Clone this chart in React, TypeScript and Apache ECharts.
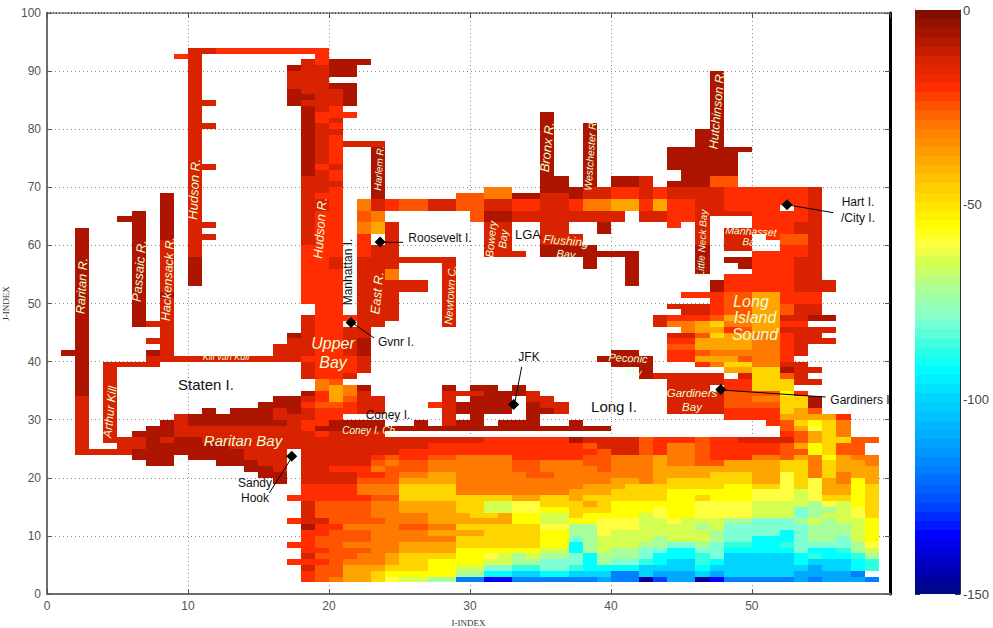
import React, { useEffect, useRef } from "react";
import * as echarts from "echarts";

// ---- colour levels (letter -> depth value) ----
const levelLetters = "abcdefghijklmnopqrst".split("");
const levelNumbers = [-7, -13, -20, -25, -30, -38, -47, -56, -60, -65, -72, -80, -87, -92, -100, -110, -118, -128, -135, -146];

const rampValues = [0, -7, -13, -20, -25, -30, -38, -47, -56, -60, -65, -72, -80, -87, -92, -100, -110, -118, -128, -135, -146, -150];
const rampColors = ["#7a0e00", "#ad1500", "#d92200", "#ff2d00", "#ff5500", "#ff7a00", "#ffa500", "#ffd500", "#ffff00", "#ffff40", "#d4ff50", "#a8ff9a", "#7fffd4", "#30ffe0", "#00ffff", "#00d5ff", "#00a8ff", "#0080ff", "#0040ff", "#0000ff", "#0000a0", "#000a80"];

const xTicksMax = 59.8;
const colorbarTicks = [0, -50, -100, -150];

// [x0, x1, y0, y1, level]
type P = [number, number, number, number, string];

const westRivers: P[] = [
  [10, 12, 93, 94, "b"], [12, 20, 93, 94, "c"], [9, 10, 92, 93, "c"], [10, 11, 58, 93, "b"], [10, 11, 53, 58, "a"],
  [11, 12, 84, 85, "b"], [11, 12, 80, 81, "b"], [11, 12, 73, 74, "b"], [11, 12, 63, 64, "b"], [11, 12, 61, 62, "b"],
  [2, 3, 34, 63, "a"], [2, 3, 24, 34, "b"], [1, 2, 41, 42, "a"],
  [4, 5, 26, 40, "b"], [4, 8, 39, 40, "b"], [7, 18, 40, 41, "b"], [7, 8, 41, 42, "a"], [7, 8, 43, 44, "b"],
  [6, 7, 46, 66, "a"], [5, 6, 64, 65, "a"], [7, 8, 46, 47, "b"],
  [8, 9, 61, 69, "a"], [8, 9, 41, 61, "b"], [8, 9, 51, 52, "a"],
  [16, 18, 41, 43, "b"], [17, 18, 43, 44, "b"], [17, 18, 44, 45, "a"],
];

const upperHudson: P[] = [
  [17, 18, 84, 91, "b"], [17, 18, 90, 91, "a"], [17, 18, 84, 87, "a"],
  [18, 19, 60, 92, "b"], [18, 19, 85, 86, "a"], [18, 19, 72, 84, "a"], [18, 19, 50, 60, "c"],
  [18, 19, 41, 48, "b"], [18, 19, 40, 41, "c"], [18, 19, 37, 40, "b"], [18, 19, 34, 35, "a"],
  [19, 20, 37, 93, "c"], [19, 20, 83, 91, "b"], [19, 20, 74, 81, "b"], [19, 20, 69, 73, "b"], [19, 20, 66, 68, "b"],
  [20, 21, 37, 88, "c"], [20, 21, 84, 87, "b"], [20, 21, 81, 82, "b"], [20, 21, 79, 80, "b"], [20, 21, 73, 74, "b"], [20, 21, 70, 71, "b"], [20, 21, 56, 58, "b"],
  [20, 23, 91, 92, "a"], [20, 22, 89, 91, "a"], [21, 22, 84, 88, "a"], [20, 21, 87, 88, "a"], [21, 22, 82, 83, "c"],
];

const eastRiver: P[] = [
  [21, 24, 77, 78, "b"], [23, 24, 68, 77, "a"],
  [22, 23, 66, 68, "e"], [23, 24, 66, 68, "b"], [24, 25, 66, 68, "c"], [25, 27, 66, 68, "d"], [27, 29, 66, 68, "b"],
  [29, 31, 66, 69, "d"], [30, 31, 64, 66, "d"], [31, 33, 68, 70, "e"], [31, 33, 66, 68, "b"], [31, 33, 64, 66, "a"],
  [33, 35, 68, 69, "a"], [33, 35, 66, 68, "c"], [33, 41, 64, 66, "b"], [42, 44, 64, 66, "b"],
  [35, 36, 69, 83, "a"], [36, 37, 69, 72, "a"], [37, 38, 68, 70, "a"], [38, 39, 70, 81, "a"], [38, 40, 68, 70, "b"],
  [35, 37, 66, 69, "b"], [37, 38, 66, 68, "c"], [38, 40, 66, 68, "e"],
  [40, 42, 70, 72, "a"], [40, 42, 68, 70, "c"], [40, 42, 66, 68, "f"], [42, 43, 68, 72, "b"], [42, 43, 66, 68, "c"],
  [35, 37, 62, 64, "b"], [35, 38, 60, 62, "b"], [35, 39, 58, 60, "a"], [38, 39, 56, 58, "a"], [39, 41, 58, 59, "a"], [41, 42, 53, 59, "a"], [39, 40, 62, 64, "a"],
  [31, 32, 58, 64, "b"], [32, 33, 59, 64, "b"], [31, 34, 58, 59, "b"],
  [22, 23, 64, 66, "d"], [23, 24, 64, 66, "e"], [22, 23, 62, 64, "e"], [23, 24, 62, 64, "f"], [22, 23, 58, 62, "c"], [23, 24, 58, 60, "b"], [24, 25, 58, 64, "b"],
  [22, 24, 46, 58, "b"], [24, 25, 47, 58, "b"], [24, 25, 54, 56, "e"], [25, 29, 57, 58, "b"], [28, 29, 46, 58, "b"], [25, 27, 52, 54, "b"],
  [21, 23, 38, 46, "b"], [22, 23, 41, 44, "a"], [21, 22, 38, 41, "c"], [21, 22, 37, 38, "b"], [21, 22, 47, 48, "c"],
];

const raritanBay: P[] = [
  [19, 20, 35, 37, "e"], [20, 21, 36, 37, "d"], [20, 21, 35, 36, "f"], [21, 22, 35, 36, "e"], [22, 23, 35, 36, "a"],
  [19, 20, 34, 35, "c"], [20, 21, 34, 35, "f"], [21, 22, 34, 35, "e"], [22, 23, 34, 35, "b"],
  [16, 18, 33, 34, "a"], [18, 19, 33, 34, "b"], [19, 20, 33, 34, "c"], [20, 21, 33, 34, "f"], [21, 22, 33, 34, "d"], [22, 24, 33, 34, "b"],
  [15, 18, 32, 33, "a"], [18, 19, 32, 33, "c"], [19, 21, 32, 33, "d"], [21, 22, 32, 33, "c"], [22, 24, 32, 33, "b"],
  [11, 12, 31, 32, "a"], [13, 16, 31, 32, "a"], [16, 17, 31, 32, "b"], [17, 18, 31, 32, "a"], [18, 19, 31, 32, "b"], [19, 22, 31, 32, "c"], [22, 24, 31, 32, "b"],
  [9, 10, 30, 31, "b"], [10, 16, 30, 31, "a"], [16, 19, 30, 31, "b"], [19, 21, 30, 31, "c"],
  [8, 9, 29, 30, "a"], [9, 10, 29, 30, "b"], [10, 17, 29, 30, "a"], [17, 18, 29, 30, "b"], [18, 20, 29, 30, "c"], [20, 24, 29, 30, "a"],
  [7, 9, 28, 29, "a"], [9, 18, 28, 29, "b"], [18, 19, 28, 29, "c"], [19, 40, 28, 29, "a"],
  [6, 9, 27, 28, "a"], [9, 19, 27, 28, "b"], [19, 20, 27, 28, "c"], [20, 24, 27, 28, "b"],
  [5, 7, 26, 27, "b"], [7, 8, 26, 27, "a"], [8, 9, 26, 27, "b"], [9, 11, 26, 27, "a"], [11, 18, 26, 27, "b"],
  [5, 7, 25, 26, "b"], [7, 13, 25, 26, "a"], [13, 18, 25, 26, "b"],
  [2, 6, 24, 25, "b"], [6, 14, 24, 25, "a"], [14, 17, 24, 25, "b"],
  [6, 9, 23, 24, "a"], [10, 14, 23, 24, "a"], [14, 17, 23, 24, "b"],
  [7, 9, 22, 23, "a"], [12, 15, 22, 23, "a"], [15, 17, 22, 23, "b"],
  [14, 16, 21, 22, "a"], [16, 17, 21, 22, "b"], [15, 17, 20, 21, "a"], [16, 17, 19, 20, "a"],
  [17, 18, 16, 17, "c"], [17, 18, 12, 13, "c"], [17, 18, 8, 9, "c"], [17, 18, 5, 6, "c"],
];

const jamaicaBay: P[] = [
  [28, 29, 35, 36, "a"], [30, 32, 35, 36, "a"], [33, 34, 35, 36, "a"],
  [28, 31, 34, 35, "b"], [31, 34, 34, 35, "a"], [34, 35, 34, 35, "b"],
  [28, 29, 33, 34, "b"], [30, 33, 33, 34, "a"], [34, 36, 33, 34, "b"],
  [27, 28, 32, 33, "c"], [28, 29, 32, 33, "b"], [29, 33, 32, 33, "a"], [34, 35, 32, 33, "a"], [35, 37, 32, 33, "b"],
  [28, 29, 31, 32, "b"], [29, 33, 31, 32, "a"], [34, 36, 31, 32, "a"], [36, 37, 31, 32, "b"],
  [28, 29, 30, 31, "b"], [30, 31, 30, 31, "a"], [34, 35, 30, 31, "a"],
  [26, 27, 29, 30, "a"], [28, 29, 29, 30, "b"], [29, 31, 29, 30, "a"], [32, 35, 29, 30, "a"], [37, 38, 29, 30, "a"],
  [39, 40, 40, 41, "a"], [40, 42, 39, 42, "a"], [42, 43, 37, 41, "a"], [43, 44, 37, 38, "b"],
];

const northShore: P[] = [
  [47, 48, 77, 90, "a"], [46, 47, 77, 80, "a"], [44, 50, 76, 77, "a"], [44, 49, 73, 76, "a"], [45, 49, 72, 73, "a"],
  [45, 47, 70, 72, "a"], [47, 49, 70, 72, "d"], [44, 45, 70, 71, "a"],
  [43, 44, 68, 70, "c"], [44, 48, 68, 70, "b"], [48, 54, 68, 70, "c"], [54, 55, 68, 70, "b"],
  [43, 44, 66, 68, "f"], [44, 46, 66, 68, "c"], [46, 48, 66, 68, "b"], [48, 54, 66, 68, "c"], [54, 55, 55, 68, "b"],
  [44, 46, 64, 66, "c"], [46, 48, 65, 66, "b"], [46, 47, 60, 65, "b"], [46, 47, 55, 60, "a"], [48, 50, 65, 66, "b"], [50, 54, 64, 66, "c"], [44, 45, 63, 64, "c"],
  [50, 53, 62, 64, "c"], [53, 54, 62, 64, "b"], [51, 52, 61, 62, "c"], [52, 54, 60, 62, "d"], [52, 54, 58, 60, "c"],
  [48, 50, 59, 63, "b"], [50, 52, 58, 59, "c"], [48, 50, 57, 58, "a"], [49, 50, 56, 57, "a"], [50, 53, 55, 58, "c"], [53, 55, 55, 58, "b"],
  [52, 53, 66, 67, "."],
];

// rows of Long Island Sound, one letter per column from I = 43 to 56, J = 54 down to 27
const soundFirstColumn = 43;
const soundRows = [
  ".....cccccbb..", "....acccccbbb.", "....acccccbbb.", "..cccddffccc..", "....cddffccc..",
  ".bbbcddffdbb..", "..bbcddffdbb..", "bcccdfeffbbaa.", "beefgeeffcc...", "..effcdffbbbb.",
  ".bbdgffeecbb..", ".ccffffeecbbb.", ".ddffffeecb...", ".ccdeeeeecb...", ".ccfffdeec....",
  "...ceggeebb...", ".....ffggabb..", ".bbbb.bggdb...", ".bbbbccgggbb..", ".bbb.ccggg....",
  ".bbbbddddhc...", ".bbbbddeegga..", ".bbbbddddgga..", ".bbbbccccgfd..", ".....ccccffffc",
  "........cdghge", ".........dfige", ".........cdfge",
];

// rows of the open ocean, one letter per column from I = 18 to 58, J = 26 down to 2
const oceanFirstColumn = 18;
const oceanRows = [
  "bbbbbbbbbbbbbccccccabb bbdcccdccbbbbdfggdd",
  "bbbbbbbbbcccccccccccdb bbdceedcccccdfhgdd",
  "bbbbbbbccccccccccccccd bbdceedcccccddhgdd",
  "bbbbbcdccddeeeecccccdd eeefeedccceedfehfee",
  "bbbbbdeddeeeeeeddeeedd eeefeeddffffggegffe",
  "bbcccedddeeeeeeddeeeed eeefffffffffggegfff",
  "bbbbccdeeffeeeeeddeeee eeeffffgggffigegeff",
  "bbbbdddffffeeeeeeeeeee ffefggggggffigifehf",
  "cccceeeggggeeeeeeeeeff fggggggghhggigiffhg",
  "cccceeeggggeeeeeeeefff gggghhhhhhiiijiffhg",
  "cccccddggggggggffggfgg gggghhghhhiiijigghg",
  "bddddeeffffggjjiigggfg hhhhhhiiiijjjjkijhg",
  "bddddeeffffggjjiihhggg hhhihhiiiijjjlkkjig",
  "bddddeeeefffggfhhjjghh hhjihhiiiijjjlkjjig",
  "bbddddeeeffffffhhjjhhi iijjijjjkklllkjkjjh",
  "acceeeeddeeggggggiikki iijjjjkjllllllkkkjh",
  "ccdddeeeeffffgggghhkki jjjjjjjkllllnlkkkjh",
  "cddddeeeeeegggggghhlkj jjjkjjjkllnnnlkkljh",
  "cddeeeeffffgggggghhnkj jjkkllklmmnnmllllki",
  "ccdddeeffffhhhhhhjjnkj kkllnnllnnnnnlnnmkj",
  "bdddeefgggghhijkjkklnk kklnnnmlooooonmnnmk",
  "ccdeeefgghhhhjjkklllnk llmnoomnooooonooonm",
  "bddfffggghhjjllmmllmnn nnoooonooooooopoonm",
  "cddffghhhhhkknnoonnooo qqopppopoooooppppq",
  "cdeffgijjkkqqssqqqqqqp qqtrpptsqqqqqpqpppq",
];

const upperRow27: P[] = [[18, 24, 27, 28, "b"]];

// stations: diamonds in index coordinates
const stationI = [23.63, 21.57, 33.1, 17.36, 52.5, 47.8];
const stationJ = [60.6, 46.75, 32.6, 23.7, 67, 35.2];

// ---- build the cell list ----
const levelValue = new Map(levelLetters.map((l, i) => [l, levelNumbers[i]] as [string, number]));
const cellMap = new Map<string, string>();
const put = (x: number, y: number, l: string) => {
  if (l === ".") cellMap.delete(x + "," + y);
  else cellMap.set(x + "," + y, l);
};
[westRivers, upperHudson, eastRiver, upperRow27, raritanBay, jamaicaBay, northShore].forEach((group) =>
  group.forEach(([x0, x1, y0, y1, l]) => {
    for (let x = x0; x < x1; x++) for (let y = y0; y < y1; y++) put(x, y, l);
  })
);
soundRows.forEach((row, k) => {
  row.split("").forEach((l, i) => {
    if (l !== ".") put(soundFirstColumn + i, 54 - k, l);
  });
});
oceanRows.forEach((row, k) => {
  row.replace(/ /g, "").split("").forEach((l, i) => {
    if (i < 41) put(oceanFirstColumn + i, 26 - k, l);
  });
});
const cells: [number, number, number][] = [];
cellMap.forEach((l, key) => {
  const [x, y] = key.split(",").map(Number);
  cells.push([x, y, levelValue.get(l) as number]);
});

const hexToRgb = (h: string) => [parseInt(h.slice(1, 3), 16), parseInt(h.slice(3, 5), 16), parseInt(h.slice(5, 7), 16)];
function colorOf(v: number): string {
  for (let i = 0; i < rampValues.length - 1; i++) {
    if (v <= rampValues[i] && v >= rampValues[i + 1]) {
      const t = (rampValues[i] - v) / (rampValues[i] - rampValues[i + 1]);
      const a = hexToRgb(rampColors[i]);
      const b = hexToRgb(rampColors[i + 1]);
      return `rgb(${a.map((c, k) => Math.round(c + (b[k] - c) * t)).join(",")})`;
    }
  }
  return "#000a80";
}

// colour bar: 64 bands
const barBands: [number, number][] = Array.from({ length: 64 }, (_, i) => [-150 + (i * 150) / 64, -150 + ((i + 1) * 150) / 64]);

const SANS = "Liberation Sans";
const PALE = "#e9ffd6";
type L = [string, number, number, number, number, boolean, string];
const placeLabels: L[] = [
  ["Raritan R.", 82, 286, 87, 12.5, true, PALE],
  ["Passaic R.", 139, 271, 85, 13, true, PALE],
  ["Hackensack R.", 168, 279, 87, 12.5, true, PALE],
  ["Hudson R.", 194, 189, 87, 13, true, PALE],
  ["Hudson R.", 320, 228, 86, 13, true, PALE],
  ["Arthur Kill", 110, 412, 84, 12, true, PALE],
  ["Kill van Kull", 226, 357, 0, 9, true, PALE],
  ["Upper", 333, 343, 0, 16, true, PALE],
  ["Bay", 333, 362, 0, 16, true, PALE],
  ["Harlem R.", 379, 168, 86, 10, true, PALE],
  ["East R.", 377, 293, 84, 13, true, PALE],
  ["Newtown C.", 450, 295, 86, 11, true, PALE],
  ["Bowery", 491, 239, 84, 11, true, PALE],
  ["Bay", 503, 239, 84, 11, true, PALE],
  ["Flushing", 566, 241, -5, 12, true, PALE],
  ["Bay", 566, 254, -5, 11, true, PALE],
  ["Bronx R.", 547, 147, 84, 13, true, PALE],
  ["Westchester R.", 590, 155, 86, 10.5, true, PALE],
  ["Hutchinson R.", 717, 110, 85, 12.5, true, PALE],
  ["Little Neck Bay", 702, 243, 87, 10, true, PALE],
  ["Manhasset", 751, 231, -3, 10.5, true, PALE],
  ["Bay", 751, 242, -3, 10, true, PALE],
  ["Long", 751, 301, 0, 16, true, PALE],
  ["Island", 755, 317, 0, 16, true, PALE],
  ["Sound", 755, 334, 0, 16, true, PALE],
  ["Peconic", 628, 358, -3, 11, true, PALE],
  ["Bay", 633, 372, -3, 10, true, "#e4ffd8"],
  ["Gardiners", 692, 393, 0, 11.5, true, PALE],
  ["Bay", 692, 407, 0, 11.5, true, PALE],
  ["Raritan Bay", 243, 440, 0, 15, true, PALE],
  ["Coney I. Ch.", 370, 430, 0, 10, true, PALE],
  ["Staten I.", 206, 384, 0, 15, false, "#111"],
  ["Manhattan I.", 348, 272, 90, 12, false, "#111"],
  ["Roosevelt I.", 440, 238, 0, 12, false, "#111"],
  ["LGA", 528, 234, 0, 13, false, "#111"],
  ["Hart I.", 858, 202, 0, 12, false, "#111"],
  ["/City I.", 858, 218, 0, 12, false, "#111"],
  ["Gvnr I.", 396, 342, 0, 12, false, "#111"],
  ["JFK", 529, 357, 0, 12, false, "#111"],
  ["Coney I.", 388, 415, 0, 12, false, "#111"],
  ["Long I.", 614, 406, 0, 15, false, "#111"],
  ["Gardiners I", 860, 400, 0, 12, false, "#111"],
  ["Sandy", 255, 483, 0, 12, false, "#111"],
  ["Hook", 255, 498, 0, 12, false, "#111"],
];
const leaders: [number, number, number, number][] = [
  [381, 242.3, 403, 242.3],
  [352, 322.7, 374, 338],
  [514.3, 405, 521.7, 367],
  [292.3, 456.7, 269.3, 493],
  [788.3, 205, 833.3, 212.7],
  [721.7, 390, 825.7, 397],
];

export default function App() {
  const ref = useRef<HTMLDivElement>(null);
  useEffect(() => {
    const chart = echarts.init(ref.current as HTMLDivElement, undefined, { renderer: "svg" });
    const frameTick = { show: true, inside: true, length: 5, lineStyle: { color: "#555", width: 1 } };
    const dotted = { color: "#8a8a8a", type: [1, 3], width: 1 };
    const option: any = {
      animation: false,
      grid: [
        { left: 47, top: 13, width: 843, height: 581, outerBoundsMode: "none" },
        { left: 915, top: 10, width: 45, height: 584, outerBoundsMode: "none" },
      ],
      xAxis: [
        {
          type: "value", gridIndex: 0, min: 0, max: xTicksMax, interval: 10, position: "bottom",
          name: "I-INDEX", nameLocation: "middle", nameGap: 24,
          nameTextStyle: { fontFamily: "Liberation Serif", fontSize: 9, color: "#333" },
          axisLine: { onZero: false, lineStyle: { color: "#6e6e6e", width: 2 } },
          axisTick: frameTick,
          axisLabel: { fontFamily: SANS, fontSize: 12, color: "#555", margin: 6, showMaxLabel: false },
          splitLine: { show: true, lineStyle: dotted },
        },
        {
          type: "value", gridIndex: 0, min: 0, max: xTicksMax, interval: 10, position: "top",
          axisLine: { onZero: false, lineStyle: { color: "#333", width: 1.5, type: [1, 2] } },
          axisTick: frameTick, axisLabel: { show: false }, splitLine: { show: false },
        },
        { type: "value", gridIndex: 1, min: 0, max: 1, show: false },
      ],
      yAxis: [
        {
          type: "value", gridIndex: 0, min: 0, max: 100, interval: 10, position: "left",
          name: "J-INDEX", nameLocation: "middle", nameGap: 30,
          nameTextStyle: { fontFamily: "Liberation Serif", fontSize: 9, color: "#333" },
          axisLine: { onZero: false, lineStyle: { color: "#6e6e6e", width: 2 } },
          axisTick: frameTick,
          axisLabel: { fontFamily: SANS, fontSize: 12, color: "#555", margin: 6 },
          splitLine: { show: true, lineStyle: dotted },
        },
        {
          type: "value", gridIndex: 0, min: 0, max: 100, interval: 10, position: "right",
          axisLine: { onZero: false, lineStyle: { color: "#000", width: 3 } },
          axisTick: frameTick, axisLabel: { show: false }, splitLine: { show: false },
        },
        {
          type: "value", gridIndex: 1, min: colorbarTicks[3], max: colorbarTicks[0], interval: 50, position: "right",
          axisLine: { onZero: false, lineStyle: { color: "#333", width: 1 } },
          axisTick: { show: true, inside: true, length: 5, lineStyle: { color: "#333" } },
          axisLabel: { fontFamily: SANS, fontSize: 13, color: "#444", margin: 3, alignMaxLabel: "top" },
          splitLine: { show: false },
        },
        {
          type: "value", gridIndex: 1, min: colorbarTicks[3], max: colorbarTicks[0], interval: 50, position: "left",
          axisLine: { onZero: false, lineStyle: { color: "#555", width: 1 } },
          axisTick: { show: true, inside: true, length: 5, lineStyle: { color: "#333" } },
          axisLabel: { show: false }, splitLine: { show: false },
        },
      ],
      series: [
        {
          type: "custom", xAxisIndex: 0, yAxisIndex: 0, data: cells, progressive: 0, silent: true, z: 2,
          encode: { x: 0, y: 1 },
          renderItem: (_: any, api: any) => {
            const x = api.value(0), y = api.value(1);
            const a = api.coord([x, y + 1]);
            const b = api.coord([x + 1, y]);
            const x0 = Math.round(a[0]), y0 = Math.round(a[1]);
            return {
              type: "rect",
              shape: { x: x0, y: y0, width: Math.round(b[0]) - x0, height: Math.round(b[1]) - y0 },
              style: { fill: colorOf(api.value(2)) },
            };
          },
        },
        {
          type: "custom", xAxisIndex: 2, yAxisIndex: 2, data: barBands, progressive: 0, silent: true, z: 1,
          encode: { y: 1 },
          renderItem: (_: any, api: any) => {
            const lo = api.value(0), hi = api.value(1);
            const a = api.coord([0, hi]);
            const b = api.coord([1, lo]);
            const y0 = Math.round(a[1]);
            return {
              type: "rect",
              shape: { x: a[0], y: y0, width: b[0] - a[0], height: Math.round(b[1]) - y0 },
              style: { fill: colorOf((lo + hi) / 2) },
            };
          },
        },
        {
          type: "scatter", xAxisIndex: 0, yAxisIndex: 0, symbol: "diamond", symbolSize: 11, z: 20, silent: true,
          itemStyle: { color: "#000", opacity: 1 },
          data: stationI.map((v, i) => [v, stationJ[i]]),
        },
      ],
      graphic: {
        elements: [
          ...leaders.map(([x1, y1, x2, y2]) => ({
            type: "line", z: 50, silent: true,
            shape: { x1, y1, x2, y2 }, style: { stroke: "#000", lineWidth: 1 },
          })),
          ...placeLabels.map(([text, x, y, rot, size, italic, color]) => ({
            type: "text", z: 60, silent: true, x, y, rotation: (rot * Math.PI) / 180,
            style: {
              text, fill: color, fontSize: size, fontFamily: SANS, fontStyle: italic ? "italic" : "normal",
              textAlign: "center", textVerticalAlign: "middle", verticalAlign: "middle",
            },
          })),
        ],
      },
    };
    chart.setOption(option);
    return () => chart.dispose();
  }, []);
  return <div ref={ref} style={{ position: "absolute", left: 0, top: 0, width: 993, height: 628, background: "#fff" }} />;
}
